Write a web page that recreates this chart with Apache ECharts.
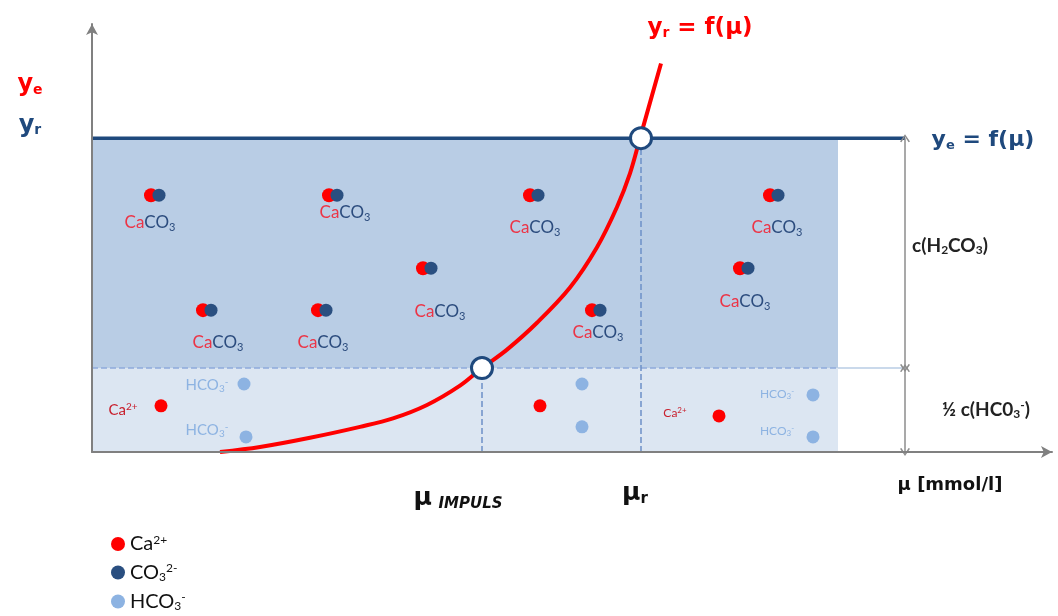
<!DOCTYPE html>
<html>
<head>
<meta charset="utf-8">
<script src="https://cdn.jsdelivr.net/npm/echarts@6/dist/echarts.min.js"></script>
<style>html,body{margin:0;background:#fff}#main{width:1058px;height:616px}</style>
</head>
<body>
<div id="main"></div>
<script>
// Kurve y_r = f(mu)
var curveMu = [1.28, 1.68, 2.18, 2.68, 3.01, 3.35, 3.68, 3.90, 4.15, 4.45, 4.78, 5.05, 5.25, 5.38, 5.48, 5.69];
var curveY = [0, 0.06, 0.17, 0.30, 0.40, 0.56, 0.79, 1.00, 1.22, 1.54, 1.96, 2.44, 2.92, 3.32, 3.74, 4.63];
// Niveaus und Grenzen
var yeLevel = 3.74, hcoLevel = 1.0;
var muImpuls = 3.9, muR = 5.49, areaEnd = 7.46, dimMu = 8.13;
// CaCO3-Molekuele (Mitte) und ihre Beschriftung
var caco3Mu = [0.63, 2.41, 3.35, 1.15, 2.30, 4.42, 6.82, 6.52, 5.04];
var caco3Y = [3.06, 3.06, 2.19, 1.69, 1.69, 3.06, 3.06, 2.19, 1.69];
var caco3LabelMu = [0.58, 2.53, 3.48, 1.26, 2.31, 4.43, 6.85, 6.53, 5.06];
var caco3LabelY = [2.73, 2.85, 1.67, 1.30, 1.30, 2.67, 2.67, 1.79, 1.42];
// freie Ionen
var caMu = [0.69, 4.48, 6.27];
var caY = [0.55, 0.55, 0.43];
var hcoMu = [1.52, 1.54, 4.90, 4.90, 7.21, 7.21];
var hcoY = [0.81, 0.18, 0.81, 0.30, 0.68, 0.18];
// Texte
var noteText = ['{r|y}{rs|e}', '{n|y}{ns|r}', '{r2|y}{r2s|r}{r2| = f(\u03bc)}', '{n2|y}{n2s|e}{n2| = f(\u03bc)}',
    '{b|c(H}{bs|2}{b|CO}{bs|3}{b|)}', '{b|\u00bd c(HC0}{bs|3}{bp|-}{b|)}',
    '{mu|\u03bc}  {imp|IMPULS}', '{mu|\u03bc}{mus|r}', '{ax|\u03bc [mmol/l]}',
    '{cr|Ca}{crp|2+}', '{hc|HCO}{hcs|3}{hcp|-}', '{hc|HCO}{hcs|3}{hcp|-}',
    '{crk|Ca}{crkp|2+}', '{hck|HCO}{hcks|3}{hckp|-}', '{hck|HCO}{hcks|3}{hckp|-}'];
var noteMu = [-0.62, -0.62, 6.08, 8.91, 8.58, 8.94, 3.66, 5.43, 8.58, 0.31, 1.15, 1.15, 5.83, 6.85, 6.85];
var noteY = [4.37, 3.89, 5.05, 3.71, 2.46, 0.50, -0.55, -0.49, -0.40, 0.50, 0.80, 0.26, 0.46, 0.69, 0.25];

var RED = '#ff0000', NAVY = '#1f497d', LBLUE = '#8db3e2';

var myChart = echarts.init(document.getElementById('main'));

var redData = [], navyData = [], hcoData = [], labelData = [];
for (var i = 0; i < caco3Mu.length; i++) {
    redData.push({value: [caco3Mu[i] - 0.04, caco3Y[i]], symbolSize: 14});
    navyData.push({value: [caco3Mu[i] + 0.04, caco3Y[i]], symbolSize: 13});
    labelData.push({value: [caco3LabelMu[i], caco3LabelY[i]], label: {formatter: '{ca|Ca}{co|CO}{cos|3}'}});
}
for (var i = 0; i < caMu.length; i++) {
    redData.push({value: [caMu[i], caY[i]], symbolSize: 13});
}
for (var i = 0; i < hcoMu.length; i++) {
    hcoData.push([hcoMu[i], hcoY[i]]);
}
for (var i = 0; i < noteText.length; i++) {
    labelData.push({value: [noteMu[i], noteY[i]], label: {formatter: noteText[i]}});
}
var curveData = [];
for (var i = 0; i < curveMu.length; i++) {
    curveData.push([curveMu[i], curveY[i]]);
}

var chevron = 'path://M5,0 L10,9 L8.6,9.8 L5,3.2 L1.4,9.8 L0,9 Z';
var hv = 'DejaVu Sans', cal = 'Lato';

var rich = {
    ca: {color: '#ec3446', fontSize: 17, fontFamily: cal},
    co: {color: '#2c4c7e', fontSize: 17, fontFamily: cal},
    cos: {color: '#2c4c7e', fontSize: 11, fontFamily: cal, padding: [9, 0, 0, 0]},
    r: {color: RED, fontSize: 24, fontWeight: 'bold', fontFamily: hv},
    rs: {color: RED, fontSize: 14, fontWeight: 'bold', fontFamily: hv, padding: [10, 0, 0, 0]},
    n: {color: NAVY, fontSize: 24, fontWeight: 'bold', fontFamily: hv},
    ns: {color: NAVY, fontSize: 14, fontWeight: 'bold', fontFamily: hv, padding: [10, 0, 0, 0]},
    r2: {color: RED, fontSize: 23, fontWeight: 'bold', fontFamily: hv},
    r2s: {color: RED, fontSize: 14, fontWeight: 'bold', fontFamily: hv, padding: [10, 0, 0, 0]},
    n2: {color: NAVY, fontSize: 22, fontWeight: 'bold', fontFamily: hv},
    n2s: {color: NAVY, fontSize: 13, fontWeight: 'bold', fontFamily: hv, padding: [10, 0, 0, 0]},
    b: {color: '#222', fontSize: 19, fontFamily: cal, fontWeight: 'bold'},
    bs: {color: '#222', fontSize: 12, fontFamily: cal, fontWeight: 'bold', padding: [9, 0, 0, 0]},
    bp: {color: '#222', fontSize: 12, fontFamily: cal, fontWeight: 'bold', padding: [0, 0, 9, 0]},
    mu: {color: '#111', fontSize: 25, fontWeight: 'bold', fontFamily: hv},
    mus: {color: '#111', fontSize: 15, fontWeight: 'bold', fontFamily: hv, padding: [12, 0, 0, 0]},
    imp: {color: '#111', fontSize: 15, fontWeight: 'bold', fontStyle: 'italic', fontFamily: hv, padding: [12, 0, 0, 0]},
    ax: {color: '#111', fontSize: 18, fontWeight: 'bold', fontFamily: hv},
    cr: {color: '#c8202e', fontSize: 15, fontFamily: cal},
    crp: {color: '#c8202e', fontSize: 10, fontFamily: cal, padding: [0, 0, 6, 0]},
    hc: {color: LBLUE, fontSize: 15, fontFamily: cal},
    hcs: {color: LBLUE, fontSize: 10, fontFamily: cal, padding: [7, 0, 0, 0]},
    hcp: {color: LBLUE, fontSize: 10, fontFamily: cal, padding: [0, 0, 7, 0]},
    crk: {color: '#c8202e', fontSize: 12, fontFamily: cal},
    crkp: {color: '#c8202e', fontSize: 8, fontFamily: cal, padding: [0, 0, 5, 0]},
    hck: {color: LBLUE, fontSize: 12, fontFamily: cal},
    hcks: {color: LBLUE, fontSize: 8, fontFamily: cal, padding: [5, 0, 0, 0]},
    hckp: {color: LBLUE, fontSize: 8, fontFamily: cal, padding: [0, 0, 5, 0]}
};

var legendNames = {
    'Ca2+': '{t|Ca}{p|2+}',
    'CO32-': '{t|CO}{s|3}{p|2-}',
    'HCO3-': '{t|HCO}{s|3}{p|-}'
};

function guide(data, color, type, width) {
    return {
        type: 'line', data: data, symbol: 'none', silent: true, z: 2,
        lineStyle: {color: color, type: type, width: width}
    };
}

myChart.setOption({
    animation: false,
    grid: {left: 92, right: 6, top: 24, bottom: 164},
    xAxis: {
        type: 'value', min: 0, max: 9.6, z: 5,
        axisLine: {show: true, symbol: ['none', 'arrow'], symbolSize: [9, 11], lineStyle: {color: '#808080', width: 2}},
        axisTick: {show: false}, axisLabel: {show: false}, splitLine: {show: false}
    },
    yAxis: {
        type: 'value', min: 0, max: 5.1, z: 5,
        axisLine: {show: true, symbol: ['none', 'arrow'], symbolSize: [9, 11], lineStyle: {color: '#808080', width: 2}},
        axisTick: {show: false}, axisLabel: {show: false}, splitLine: {show: false}
    },
    legend: {
        data: ['Ca2+', 'CO32-', 'HCO3-'],
        orient: 'vertical', left: 111, top: 534, padding: 0,
        icon: 'circle', itemWidth: 14, itemHeight: 14, itemGap: 8, textStyle: {
            rich: {
                t: {fontSize: 20, lineHeight: 22, color: '#111', fontFamily: cal},
                s: {fontSize: 12, lineHeight: 12, color: '#111', fontFamily: cal, padding: [9, 0, 0, 0]},
                p: {fontSize: 12, lineHeight: 12, color: '#111', fontFamily: cal, padding: [0, 0, 8, 0]}
            }
        },
        formatter: function (name) { return legendNames[name]; }
    },
    series: [
        {
            type: 'line', data: [], silent: true,
            markArea: {
                silent: true,
                data: [
                    [{xAxis: 0, yAxis: hcoLevel, itemStyle: {color: '#b9cde5'}}, {xAxis: areaEnd, yAxis: yeLevel}],
                    [{xAxis: 0, yAxis: 0, itemStyle: {color: '#dce6f2'}}, {xAxis: areaEnd, yAxis: hcoLevel}]
                ]
            }
        },
        guide([[0, hcoLevel], [areaEnd, hcoLevel]], '#8eaadb', 'dashed', 1.5),
        guide([[areaEnd, hcoLevel], [dimMu, hcoLevel]], '#b9cde5', 'solid', 1.5),
        guide([[muImpuls, 0], [muImpuls, hcoLevel]], '#6d8fc7', 'dashed', 1.5),
        guide([[muR, 0], [muR, yeLevel]], '#6d8fc7', 'dashed', 1.5),
        {
            type: 'line', data: [], silent: true,
            markLine: {
                silent: true, symbol: [chevron, chevron], symbolSize: [10, 8],
                label: {show: false},
                lineStyle: {color: '#8c8c8c', type: 'solid', width: 1.5},
                data: [
                    [{coord: [dimMu, yeLevel]}, {coord: [dimMu, hcoLevel]}],
                    [{coord: [dimMu, hcoLevel]}, {coord: [dimMu, 0]}]
                ]
            }
        },
        {
            type: 'line', data: [[0, yeLevel], [dimMu, yeLevel]], symbol: 'none', silent: true, z: 3,
            lineStyle: {color: NAVY, width: 3.5}
        },
        {
            type: 'line', data: curveData, smooth: 0.35, symbol: 'none', silent: true, z: 4,
            lineStyle: {color: RED, width: 4}
        },
        {
            name: 'Ca2+', type: 'scatter', data: redData, z: 6, silent: true,
            itemStyle: {color: RED, opacity: 1}
        },
        {
            name: 'CO32-', type: 'scatter', data: navyData, z: 7, silent: true,
            itemStyle: {color: '#2a4f80', opacity: 1}
        },
        {
            name: 'HCO3-', type: 'scatter', data: hcoData, symbolSize: 13, z: 6, silent: true,
            itemStyle: {color: LBLUE, opacity: 1}
        },
        {
            type: 'scatter', data: [[muImpuls, hcoLevel], [muR, yeLevel]], symbolSize: 21, z: 10, silent: true,
            itemStyle: {color: '#ffffff', borderColor: NAVY, borderWidth: 3, opacity: 1}
        },
        {
            type: 'scatter', data: labelData, symbolSize: 1, z: 8, silent: true, clip: false,
            itemStyle: {color: 'rgba(0,0,0,0)', opacity: 1},
            label: {show: true, position: 'inside', rich: rich}
        }
    ]
});
</script>
</body>
</html>
